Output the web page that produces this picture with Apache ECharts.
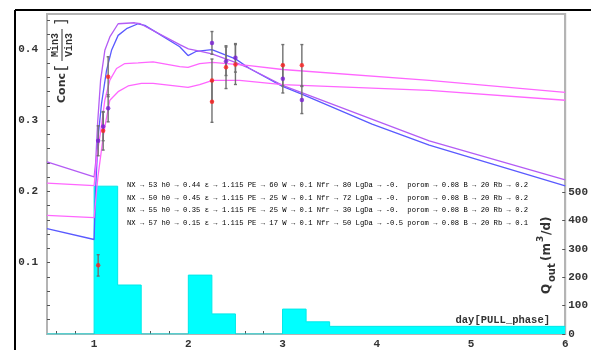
<!DOCTYPE html>
<html>
<head>
<meta charset="utf-8">
<script src="https://cdn.jsdelivr.net/npm/echarts@6/dist/echarts.min.js"></script>
<style>
  html, body { margin: 0; padding: 0; background: #fff; }
  #c { width: 591px; height: 350px; }
</style>
</head>
<body>
<div id="c"></div>
<script>
// ---- model curves: [day, concentration] ----
const curveNX53 = [
  [0.5, 0.148], [1.0, 0.1326], [1.015, 0.2], [1.043, 0.277], [1.079, 0.3237], [1.132, 0.370],
  [1.185, 0.398], [1.255, 0.419], [1.344, 0.4284], [1.467, 0.4353], [1.538, 0.433], [1.626, 0.426],
  [1.909, 0.403], [1.997, 0.3907], [2.086, 0.3967], [2.25, 0.399], [2.5, 0.386], [2.65, 0.3725],
  [3.0, 0.3474], [3.21, 0.3363], [3.95, 0.2944], [4.557, 0.265], [6.0, 0.208]
];
const curveNX50 = [
  [0.5, 0.2414], [1.0, 0.2205], [1.016, 0.240], [1.037, 0.2958], [1.069, 0.3562], [1.114, 0.398],
  [1.167, 0.4168], [1.255, 0.4353], [1.43, 0.4367], [1.49, 0.4353], [1.909, 0.406], [2.0, 0.400],
  [2.12, 0.397], [2.25, 0.393], [2.5, 0.381], [2.65, 0.3725], [3.0, 0.349], [4.557, 0.271], [6.0, 0.2163]
];
const curveNX55 = [
  [0.5, 0.2117], [1.0, 0.2083], [1.03, 0.25], [1.072, 0.2865], [1.114, 0.3283], [1.167, 0.3562],
  [1.238, 0.3725], [1.326, 0.3795], [1.467, 0.3805], [1.626, 0.3819], [1.909, 0.3753], [1.997, 0.374],
  [2.12, 0.3795], [2.258, 0.381], [2.65, 0.3767], [3.0, 0.3711], [4.557, 0.3558], [6.0, 0.339]
];
const curveNX57 = [
  [0.5, 0.1665], [1.0, 0.1632], [1.04, 0.22], [1.1, 0.28], [1.149, 0.316], [1.167, 0.328],
  [1.255, 0.34], [1.361, 0.348], [1.502, 0.3516], [1.626, 0.3516], [1.997, 0.346], [2.12, 0.350],
  [2.258, 0.3558], [2.544, 0.3558], [3.0, 0.350], [4.557, 0.3418], [6.0, 0.328]
];

// ---- measurements: [day, value, error] ----
const measuredRed = [
  [1.043, 0.0963, 0.015], [1.096, 0.2851, 0.027], [1.149, 0.361, 0.028],
  [2.251, 0.3558, 0.030], [2.251, 0.326, 0.029], [2.40, 0.3744, 0.030],
  [2.50, 0.3781, 0.028], [3.003, 0.3771, 0.029], [3.205, 0.3771, 0.029]
];
const measuredViolet = [
  [1.043, 0.2711, 0.021], [1.096, 0.2912, 0.020], [1.149, 0.3167, 0.019],
  [2.251, 0.4084, 0.016], [2.40, 0.3827, 0.020], [2.50, 0.3875, 0.020],
  [3.003, 0.3582, 0.020], [3.205, 0.3283, 0.019]
];

// ---- outflow histogram: bin edges (day) and rates (m3/d) ----
const flowEdges = [0.5, 1.0, 1.25, 1.5, 2.0, 2.25, 2.5, 3.0, 3.25, 3.5, 6.0];
const flowRates = [0, 522, 173, 0, 208, 71, 0, 88, 43, 27];

// ---- tick labels ----
const dayLabels = [1, 2, 3, 4, 5, 6];
const concLabels = [0.1, 0.2, 0.3, 0.4];
const flowLabels = [0, 100, 200, 300, 400, 500];

// ---- parameter rows of the four runs ----
const runColors = ['#5a5aff', '#b45cf5', '#ff66ff', '#ff66ff'];
const runParams = [
  [['NX', '53'], ['h0', '0.44'], ['ε', '1.115'], ['PE', '60'], ['W', '0.1'], ['Nfr', '80'], ['LgDa', '-0. '], ['porom', '0.08'], ['B', '20'], ['Rb', '0.2']],
  [['NX', '50'], ['h0', '0.45'], ['ε', '1.115'], ['PE', '25'], ['W', '0.1'], ['Nfr', '72'], ['LgDa', '-0. '], ['porom', '0.08'], ['B', '20'], ['Rb', '0.2']],
  [['NX', '55'], ['h0', '0.35'], ['ε', '1.115'], ['PE', '25'], ['W', '0.1'], ['Nfr', '30'], ['LgDa', '-0. '], ['porom', '0.08'], ['B', '20'], ['Rb', '0.2']],
  [['NX', '57'], ['h0', '0.15'], ['ε', '1.115'], ['PE', '17'], ['W', '0.1'], ['Nfr', '50'], ['LgDa', '-0.5'], ['porom', '0.08'], ['B', '20'], ['Rb', '0.1']]
];
const darkArrowKeys = ['ε', 'porom', 'B', 'Rb'];

// ---- derived structures ----
const flowStep = flowRates.map((r, i) => [flowEdges[i], r]);
flowStep.push([flowEdges[flowEdges.length - 1], flowRates[flowRates.length - 1]]);

const errorBars = measuredRed.concat(measuredViolet).map(d => [d[0], d[1] - d[2], d[1] + d[2]]);

const dayTicks = [];
for (let k = 6; k <= 58; k += 2) dayTicks.push(k / 10);
const concTicks = [];
for (let k = 1; k <= 22; k++) concTicks.push(k / 50);

function paramRowRich(params, idx) {
  return params.map(([key, val]) => {
    const arrow = darkArrowKeys.indexOf(key) >= 0 ? '{d|→}' : '{a' + idx + '|→}';
    return '{t|' + key + ' }' + arrow + '{t| ' + val + '}';
  }).join('{t| }');
}

const monoFont = '"Liberation Mono", "DejaVu Sans Mono", monospace';
const richBase = { t: { fontFamily: monoFont, fontSize: 7.2, color: '#555' }, d: { fontFamily: monoFont, fontSize: 7.2, color: '#444' } };
runColors.forEach((c, i) => { richBase['a' + i] = { fontFamily: monoFont, fontSize: 7.2, color: c }; });

const chart = echarts.init(document.getElementById('c'));

const lineSeries = (data, color) => ({
  type: 'line', data, showSymbol: false, symbol: 'none', z: 3,
  lineStyle: { color, width: 1.3 }, emphasis: { disabled: true }
});

const option = {
  animation: false,
  grid: { left: 47, right: 25, top: 14, bottom: 14, show: true, borderColor: '#b4b4b4', borderWidth: 2 },
  xAxis: {
    type: 'value', min: 0.5, max: 6,
    axisLine: { show: true, lineStyle: { color: '#b4b4b4', width: 2 } },
    axisTick: { show: true, inside: true, length: 3, customValues: dayTicks, lineStyle: { color: '#555' } },
    axisLabel: { customValues: dayLabels, margin: 5, fontFamily: monoFont, fontWeight: 'bold', fontSize: 11, color: '#333' },
    splitLine: { show: false }
  },
  yAxis: [
    {
      type: 'value', min: 0, max: 0.449, position: 'left',
      axisLine: { show: true, lineStyle: { color: '#b4b4b4', width: 2 } },
      axisTick: { show: true, inside: true, length: 3, customValues: concTicks, lineStyle: { color: '#555' } },
      axisLabel: { customValues: concLabels, margin: 9, fontFamily: monoFont, fontWeight: 'bold', fontSize: 11, color: '#333' },
      splitLine: { show: false }
    },
    {
      type: 'value', min: 0, max: 1130, position: 'right',
      axisLine: { show: true, lineStyle: { color: '#b4b4b4', width: 2 } },
      axisTick: { show: true, inside: true, length: 3, customValues: flowLabels, lineStyle: { color: '#555' } },
      axisLabel: { customValues: flowLabels, margin: 3, fontFamily: monoFont, fontWeight: 'bold', fontSize: 11, color: '#333' },
      splitLine: { show: false }
    }
  ],
  series: [
    {
      type: 'line', yAxisIndex: 1, data: flowStep, step: 'end', symbol: 'none', z: 1,
      lineStyle: { color: '#00e8e8', width: 1 }, areaStyle: { color: '#00ffff', opacity: 1 }
    },
    lineSeries(curveNX53, runColors[0]),
    lineSeries(curveNX50, runColors[1]),
    lineSeries(curveNX55, runColors[2]),
    lineSeries(curveNX57, runColors[3]),
    {
      type: 'custom', data: errorBars, z: 4, encode: { x: 0, y: [1, 2] },
      renderItem(params, api) {
        const x = api.value(0);
        const top = api.coord([x, api.value(2)]);
        const bot = api.coord([x, api.value(1)]);
        const st = { stroke: '#707070', lineWidth: 1.4 };
        return {
          type: 'group', children: [
            { type: 'line', shape: { x1: top[0], y1: top[1], x2: bot[0], y2: bot[1] }, style: st },
            { type: 'line', shape: { x1: top[0] - 1.5, y1: top[1], x2: top[0] + 1.5, y2: top[1] }, style: st },
            { type: 'line', shape: { x1: bot[0] - 1.5, y1: bot[1], x2: bot[0] + 1.5, y2: bot[1] }, style: st }
          ]
        };
      }
    },
    { type: 'scatter', data: measuredRed.map(d => [d[0], d[1]]), symbolSize: 4.5, z: 5, itemStyle: { color: '#ff1f1f' } },
    { type: 'scatter', data: measuredViolet.map(d => [d[0], d[1]]), symbolSize: 4.5, z: 5, itemStyle: { color: '#7a1ed6' } }
  ],
  graphic: [
    // outer frame
    { type: 'line', shape: { x1: 15, y1: 10, x2: 591, y2: 10 }, style: { stroke: '#000', lineWidth: 2 }, z: 10 },
    { type: 'line', shape: { x1: 15, y1: 10, x2: 15, y2: 350 }, style: { stroke: '#000', lineWidth: 2 }, z: 10 },
    // parameter rows
    ...runParams.map((p, i) => ({
      type: 'text', x: 127, y: 185 + i * 12.8, z: 10,
      style: { text: paramRowRich(p, i), rich: richBase, verticalAlign: 'middle', align: 'left' }
    })),
    // x axis title
    {
      type: 'text', x: 550, y: 320, z: 10,
      style: { text: 'day[PULL_phase]', font: 'bold 10.5px ' + monoFont, fill: '#333', align: 'right', verticalAlign: 'middle' }
    },
    // left axis title
    {
      type: 'group', x: 62, y: 103, rotation: Math.PI / 2, z: 10,
      children: [
        { type: 'text', x: 0, y: 0, style: { text: 'Conc', font: 'bold 11px "DejaVu Sans"', fill: '#333', align: 'left', verticalAlign: 'middle' } },
        { type: 'text', x: 32, y: 0, style: { text: '[', font: '16px "DejaVu Sans"', fill: '#333', align: 'left', verticalAlign: 'middle' } },
        { type: 'text', x: 58, y: -7, style: { text: 'Min3', font: 'bold 10px ' + monoFont, fill: '#333', align: 'center', verticalAlign: 'middle' } },
        { type: 'line', shape: { x1: 42, y1: 0, x2: 74, y2: 0 }, style: { stroke: '#333', lineWidth: 1 } },
        { type: 'text', x: 58, y: 7, style: { text: 'Vin3', font: 'bold 10px ' + monoFont, fill: '#333', align: 'center', verticalAlign: 'middle' } },
        { type: 'text', x: 78, y: 0, style: { text: ']', font: '16px "DejaVu Sans"', fill: '#333', align: 'left', verticalAlign: 'middle' } }
      ]
    },
    // right axis title
    {
      type: 'group', x: 547, y: 294, rotation: Math.PI / 2, z: 10,
      children: [
        { type: 'text', x: 0, y: 0, style: { text: 'Q', font: 'bold 12px "DejaVu Sans"', fill: '#333', align: 'left', verticalAlign: 'middle' } },
        { type: 'text', x: 12, y: 5, style: { text: 'out', font: 'bold 10px "DejaVu Sans"', fill: '#333', align: 'left', verticalAlign: 'middle' } },
        { type: 'text', x: 33, y: 0, style: { text: '(m', font: 'bold 12px "DejaVu Sans"', fill: '#333', align: 'left', verticalAlign: 'middle' } },
        { type: 'text', x: 52, y: -6, style: { text: '3', font: 'bold 9px "DejaVu Sans"', fill: '#333', align: 'left', verticalAlign: 'middle' } },
        { type: 'text', x: 59, y: 0, style: { text: '/d)', font: 'bold 12px "DejaVu Sans"', fill: '#333', align: 'left', verticalAlign: 'middle' } }
      ]
    }
  ]
};

chart.setOption(option);
</script>
</body>
</html>
